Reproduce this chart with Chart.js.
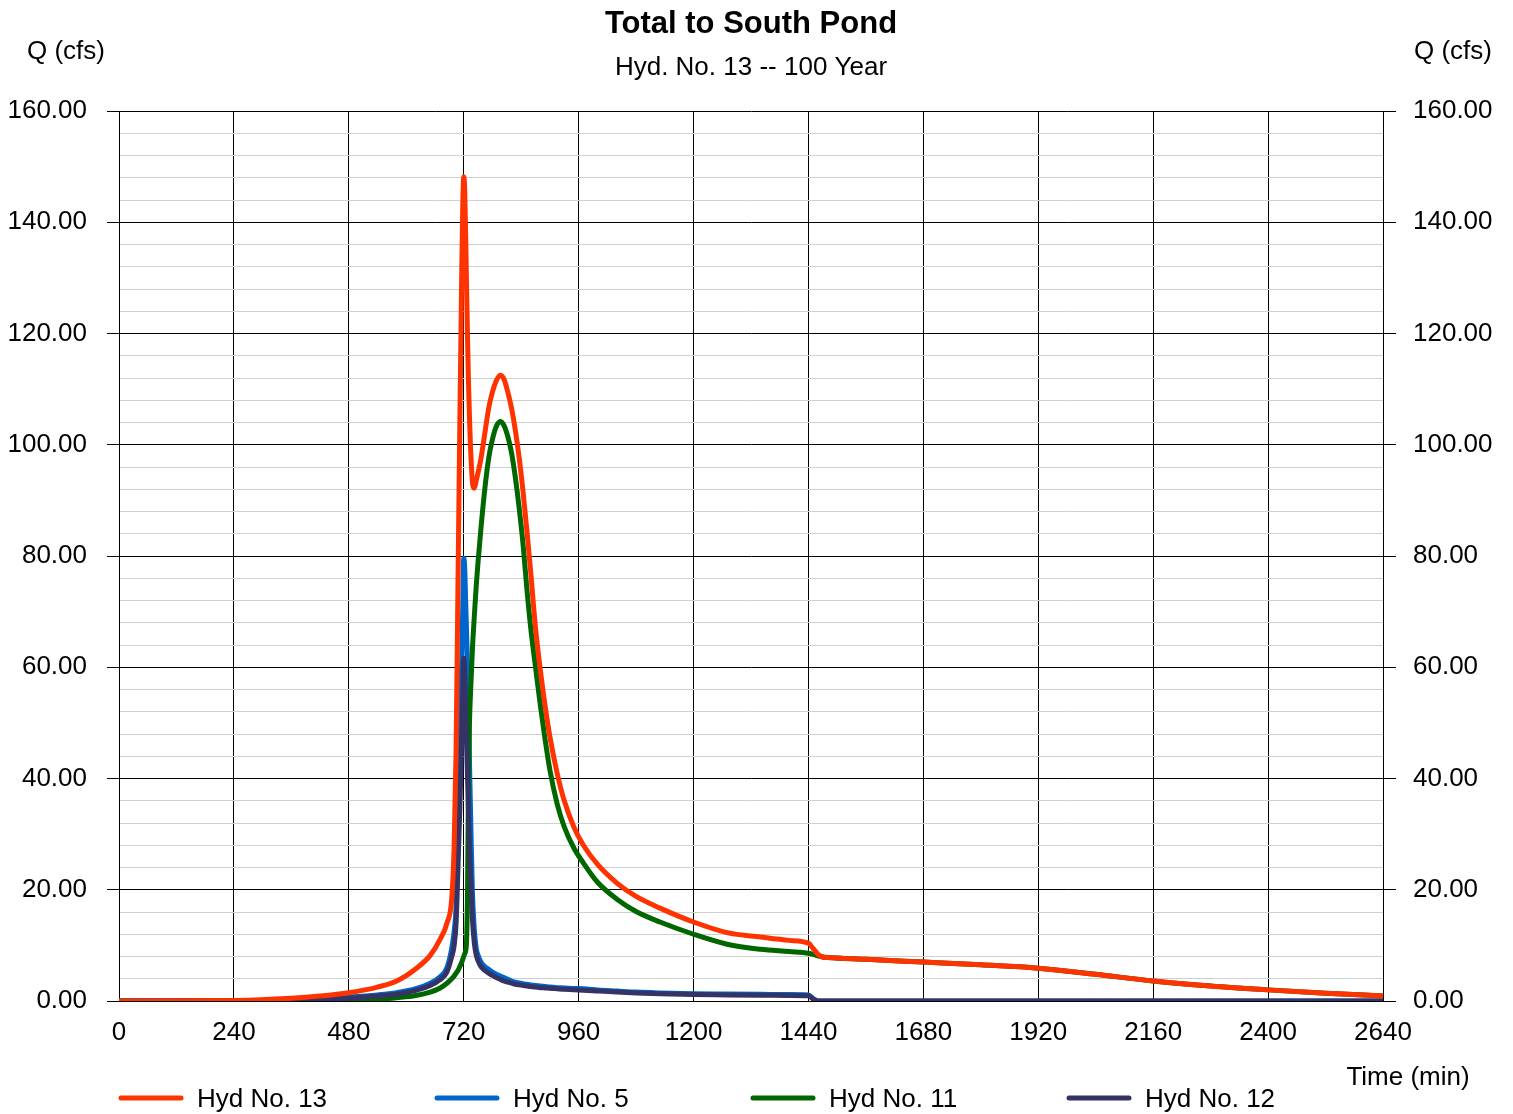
<!DOCTYPE html>
<html>
<head>
<meta charset="utf-8">
<title>Total to South Pond</title>
<script src="https://cdn.jsdelivr.net/npm/chart.js@4.4.0/dist/chart.umd.min.js"></script>
<style>
  body { margin: 0; background: #fff; }
  #wrap { position: relative; width: 1513px; height: 1114px; }
</style>
</head>
<body>
<div id="wrap"><canvas id="myChart"></canvas></div>
<script>
/* globals Chart:false */

const titleText = "Total to South Pond";
const subtitleText = "Hyd. No. 13 -- 100 Year";
const yTitle = "Q (cfs)";
const xTitle = "Time (min)";
const seriesNames = ["Hyd No. 13", "Hyd No. 5", "Hyd No. 11", "Hyd No. 12"];

// time in minutes
const times = [
  0, 240, 360, 420, 480, 540, 580, 620, 650, 670,
  685, 695, 700, 704, 708, 712, 716, 718, 720, 722,
  724, 726, 728, 730, 732, 734, 738, 742, 746, 750,
  756, 764, 772, 780, 788, 796, 804, 812, 820, 828,
  836, 844, 852, 860, 870, 880, 890, 900, 915, 930,
  950, 970, 1000, 1040, 1080, 1130, 1200, 1270, 1340, 1400,
  1440, 1450, 1460, 1470, 1480, 1560, 1680, 1800, 1920, 2040,
  2160, 2280, 2400, 2520, 2640
];

const hyd13 = [
  0, 0.1, 0.5, 0.9, 1.5, 2.5, 3.6, 5.8, 8.2, 11,
  14, 18.5, 28, 45, 75, 105, 132, 143, 148.2, 146,
  138, 128, 119, 111, 105, 100, 93.5, 92.2, 93.5, 95,
  97.5, 102, 106.5, 109.5, 111.5, 112.5, 111.8, 109.5, 106.5, 102.5,
  97.5, 91.5, 84.5, 77, 67, 59.5, 53, 47.5, 41, 36,
  31.3, 28, 24.5, 21.2, 18.8, 16.7, 14.2, 12.3, 11.5, 10.9,
  10.4, 9.4, 8.4, 7.9, 7.8, 7.5, 7.0, 6.5, 5.9, 4.8,
  3.6, 2.7, 2.0, 1.4, 0.9
];

const hyd5 = [
  0, 0, 0.2, 0.4, 0.7, 1.1, 1.5, 2.2, 3.2, 4.3,
  6.0, 9.5, 12.5, 17, 30, 47, 62, 71, 79.6, 78,
  72, 66, 60, 52, 43, 35, 20, 13, 9.5, 8.2,
  7.0, 6.2, 5.7, 5.2, 4.8, 4.5, 4.2, 3.9, 3.6, 3.4,
  3.25, 3.1, 3.0, 2.9, 2.8, 2.7, 2.6, 2.5, 2.4, 2.35,
  2.25, 2.2, 2.0, 1.8, 1.6, 1.45, 1.3, 1.25, 1.2, 1.15,
  1.1, 0.4, 0, 0, 0, 0, 0, 0, 0, 0,
  0, 0, 0, 0, 0
];

const hyd11 = [
  0, 0, 0, 0.05, 0.1, 0.3, 0.6, 1.0, 1.6, 2.3,
  3.2, 4.0, 4.5, 5.0, 5.5, 6.2, 7.0, 7.5, 8.0, 8.5,
  9, 11, 20, 40, 50, 55, 63, 69, 74.5, 79,
  85, 92, 97.5, 101, 103.3, 104.2, 103.5, 101.5, 98.5, 94,
  88.5, 82, 74, 67, 60, 53.2, 47, 41.5, 35.5, 31.3,
  27.5, 24.8, 21.3, 18.3, 16.1, 14.2, 12, 10.2, 9.3, 8.9,
  8.6, 8.4, 8.1, 7.9, 7.8, 7.5, 7.0, 6.5, 5.9, 4.8,
  3.6, 2.7, 2.0, 1.4, 0.9
];

const hyd12 = [
  0, 0, 0.1, 0.3, 0.5, 0.9, 1.2, 1.9, 2.8, 3.8,
  5.2, 8, 10, 14, 24, 35, 48, 55, 61.6, 59,
  52, 46, 40, 34, 28, 23, 15, 10.5, 8.3, 7.2,
  6.2, 5.5, 5.0, 4.6, 4.2, 3.9, 3.6, 3.4, 3.2, 3.0,
  2.9, 2.8, 2.7, 2.6, 2.5, 2.4, 2.35, 2.3, 2.2, 2.1,
  2.0, 1.95, 1.8, 1.6, 1.45, 1.3, 1.15, 1.1, 1.05, 1.0,
  0.95, 0.35, 0, 0, 0, 0, 0, 0, 0, 0,
  0, 0, 0, 0, 0
];

const colors = ["#FF3300", "#0066CC", "#006600", "#333366"];
const drawOrder = [0, 3, 2, 1];
const allSeries = [hyd13, hyd5, hyd11, hyd12];

const FONT = '"Liberation Sans", Arial, sans-serif';
Chart.defaults.font.family = FONT;
Chart.defaults.color = "#000";

const toPoints = vals => times.map((t, i) => ({ x: t, y: vals[i] }));

const isMajor = v => Math.round(v) % 20 === 0;

// titles and bottom legend
const textPlugin = {
  id: "textPlugin",
  afterDraw(chart) {
    const ctx = chart.ctx;
    ctx.save();
    ctx.fillStyle = "#000";
    ctx.textBaseline = "alphabetic";
    ctx.textAlign = "center";
    ctx.font = "bold 31px " + FONT;
    ctx.fillText(titleText, 751, 33);
    ctx.font = "26px " + FONT;
    ctx.fillText(subtitleText, 751, 75);
    ctx.fillText(yTitle, 66, 59);
    ctx.fillText(yTitle, 1453, 59);
    ctx.fillText(xTitle, 1408, 1085);

    ctx.textAlign = "left";
    chart.data.datasets.forEach((ds, i) => {
      const x = 118 + i * 316, y = 1098;
      ctx.strokeStyle = ds.borderColor;
      ctx.lineWidth = 5;
      ctx.lineCap = "round";
      ctx.beginPath();
      ctx.moveTo(x + 3, y);
      ctx.lineTo(x + 63, y);
      ctx.stroke();
      ctx.fillText(ds.label, x + 79, y + 9);
    });
    ctx.restore();
  }
};

const yTicks = {
  stepSize: 4,
  autoSkip: false,
  font: { size: 26 },
  color: "#000",
  callback: v => isMajor(v) ? Number(v).toFixed(2) : ""
};

new Chart(document.getElementById("myChart"), {
  type: "line",
  data: {
    datasets: allSeries.map((vals, i) => ({
      label: seriesNames[i],
      data: toPoints(vals),
      borderColor: colors[i],
      backgroundColor: colors[i],
      borderWidth: 5,
      pointRadius: 0,
      cubicInterpolationMode: "monotone",
      borderJoinStyle: "round",
      borderCapStyle: "round",
      order: drawOrder[i]
    }))
  },
  options: {
    responsive: true,
    maintainAspectRatio: false,
    animation: false,
    layout: { padding: { top: 111, left: 0, right: 0, bottom: 0 } },
    plugins: {
      legend: { display: false },
      title: { display: false },
      tooltip: { enabled: false }
    },
    scales: {
      x: {
        type: "linear",
        min: 0,
        max: 2640,
        ticks: {
          stepSize: 240, autoSkip: false, maxRotation: 0, padding: 16,
          font: { size: 26 }, color: "#000",
          callback: v => String(v)
        },
        grid: { color: "#000", lineWidth: 1, drawTicks: false },
        border: { color: "#000" },
        afterFit(scale) { scale.height = 113; }
      },
      y: {
        position: "left",
        min: 0,
        max: 160,
        ticks: Object.assign({ padding: 20 }, yTicks),
        grid: {
          color: c => isMajor(c.tick.value) ? "#000" : "#cfcfcf",
          tickColor: c => isMajor(c.tick.value) ? "#000" : "rgba(0,0,0,0)",
          tickLength: 12
        },
        border: { color: "#000" },
        afterFit(scale) { scale.width = 119; }
      },
      y2: {
        position: "right",
        min: 0,
        max: 160,
        ticks: Object.assign({ padding: 17 }, yTicks),
        grid: {
          drawOnChartArea: false,
          tickColor: c => isMajor(c.tick.value) ? "#000" : "rgba(0,0,0,0)",
          tickLength: 13
        },
        border: { color: "#000" },
        afterFit(scale) { scale.width = 130; }
      }
    }
  },
  plugins: [textPlugin]
});
</script>
</body>
</html>
